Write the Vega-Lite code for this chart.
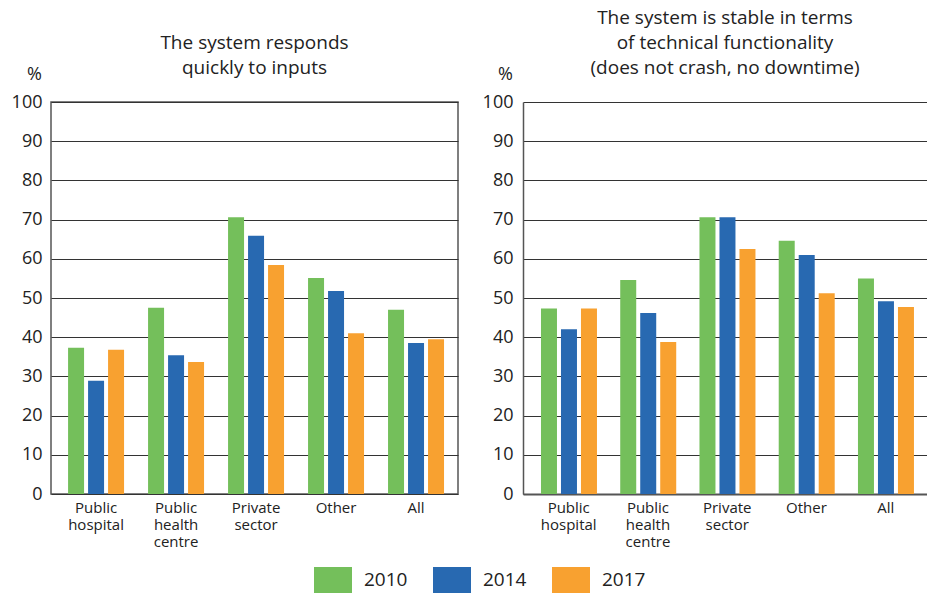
{
  "$schema": "https://vega.github.io/schema/vega-lite/v6.json",
  "background": "white",
  "padding": {"left": 10, "top": 9, "right": 0, "bottom": 0},
  "config": {
    "font": "Open Sans",
    "view": {"stroke": "#555", "strokeWidth": 1.5},
    "concat": {"spacing": 23},
    "axis": {"labelColor": "#222", "titleColor": "#222", "labelFont": "Open Sans", "titleFont": "Open Sans"}
  },
  "data": {
    "values": [
      {"panel": "A", "category": "Public hospital", "year": "2010", "value": 37.3},
      {"panel": "A", "category": "Public hospital", "year": "2014", "value": 28.9},
      {"panel": "A", "category": "Public hospital", "year": "2017", "value": 36.8},
      {"panel": "A", "category": "Public health centre", "year": "2010", "value": 47.5},
      {"panel": "A", "category": "Public health centre", "year": "2014", "value": 35.4},
      {"panel": "A", "category": "Public health centre", "year": "2017", "value": 33.7},
      {"panel": "A", "category": "Private sector", "year": "2010", "value": 70.6},
      {"panel": "A", "category": "Private sector", "year": "2014", "value": 65.9},
      {"panel": "A", "category": "Private sector", "year": "2017", "value": 58.4},
      {"panel": "A", "category": "Other", "year": "2010", "value": 55.1},
      {"panel": "A", "category": "Other", "year": "2014", "value": 51.8},
      {"panel": "A", "category": "Other", "year": "2017", "value": 41.0},
      {"panel": "A", "category": "All", "year": "2010", "value": 47.0},
      {"panel": "A", "category": "All", "year": "2014", "value": 38.5},
      {"panel": "A", "category": "All", "year": "2017", "value": 39.5},
      {"panel": "B", "category": "Public hospital", "year": "2010", "value": 47.3},
      {"panel": "B", "category": "Public hospital", "year": "2014", "value": 42.0},
      {"panel": "B", "category": "Public hospital", "year": "2017", "value": 47.3},
      {"panel": "B", "category": "Public health centre", "year": "2010", "value": 54.6},
      {"panel": "B", "category": "Public health centre", "year": "2014", "value": 46.2},
      {"panel": "B", "category": "Public health centre", "year": "2017", "value": 38.8},
      {"panel": "B", "category": "Private sector", "year": "2010", "value": 70.6},
      {"panel": "B", "category": "Private sector", "year": "2014", "value": 70.6},
      {"panel": "B", "category": "Private sector", "year": "2017", "value": 62.5},
      {"panel": "B", "category": "Other", "year": "2010", "value": 64.6},
      {"panel": "B", "category": "Other", "year": "2014", "value": 61.0},
      {"panel": "B", "category": "Other", "year": "2017", "value": 51.2},
      {"panel": "B", "category": "All", "year": "2010", "value": 55.0},
      {"panel": "B", "category": "All", "year": "2014", "value": 49.2},
      {"panel": "B", "category": "All", "year": "2017", "value": 47.7}
    ]
  },
  "hconcat": [
    {
      "width": 407,
      "height": 392,
      "title": {"text": ["The system responds", "quickly to inputs"], "frame": "group", "anchor": "middle", "baseline": "bottom", "offset": -32, "fontSize": 19, "fontWeight": "normal", "lineHeight": 25, "color": "#222", "font": "Open Sans"},
      "transform": [{"filter": "datum.panel == 'A'"}],
      "mark": {"type": "bar"},
      "encoding": {
        "x": {
          "field": "category", "type": "nominal",
          "sort": ["Public hospital", "Public health centre", "Private sector", "Other", "All"],
          "scale": {"paddingInner": 0.3, "paddingOuter": 0.194, "align": 0.55},
          "axis": {"title": null, "labelAngle": 0, "labelExpr": "split(datum.label, ' ')", "labelFontSize": 15, "labelLineHeight": 17, "ticks": false, "domain": false, "labelPadding": 6, "labelBaseline": "top"}
        },
        "xOffset": {"field": "year", "type": "nominal", "scale": {"paddingInner": 0.2, "paddingOuter": 0}},
        "y": {
          "field": "value", "type": "quantitative",
          "scale": {"domain": [0, 100]},
          "axis": {"title": "%", "titleAngle": 0, "titleX": -17, "titleY": -28, "titleAlign": "center", "titleBaseline": "middle", "titleFontSize": 18, "titleFontWeight": "normal", "values": [0, 10, 20, 30, 40, 50, 60, 70, 80, 90, 100], "ticks": false, "labelPadding": 9, "labelFontSize": 18, "grid": true, "gridColor": "#333", "gridWidth": 1, "gridOpacity": 1, "domain": false}
        },
        "color": {
          "field": "year", "type": "nominal",
          "scale": {"domain": ["2010", "2014", "2017"], "range": ["#74BF5B", "#2869B1", "#F8A130"]},
          "legend": {"orient": "none", "legendX": 263, "legendY": 459, "direction": "horizontal", "title": null, "symbolType": "M-1,-0.684L1,-0.684L1,0.684L-1,0.684Z", "symbolSize": 1444, "symbolStrokeWidth": 0, "symbolOpacity": 1, "labelFontSize": 19, "labelOffset": 12, "columnPadding": 25, "labelColor": "#222", "labelFont": "Open Sans"}
        }
      }
    },
    {
      "width": 404,
      "height": 392,
      "view": {"stroke": null},
      "title": {"text": ["The system is stable in terms", "of technical functionality", "(does not crash, no downtime)"], "frame": "group", "anchor": "middle", "baseline": "bottom", "offset": -32, "fontSize": 19, "fontWeight": "normal", "lineHeight": 25, "color": "#222", "font": "Open Sans"},
      "transform": [{"filter": "datum.panel == 'B'"}],
      "mark": {"type": "bar"},
      "encoding": {
        "x": {
          "field": "category", "type": "nominal",
          "sort": ["Public hospital", "Public health centre", "Private sector", "Other", "All"],
          "scale": {"paddingInner": 0.3, "paddingOuter": 0.199, "align": 0.57},
          "axis": {"title": null, "labelAngle": 0, "labelExpr": "split(datum.label, ' ')", "labelFontSize": 15, "labelLineHeight": 17, "ticks": false, "domain": true, "domainColor": "#555", "domainWidth": 2, "labelPadding": 6, "labelBaseline": "top"}
        },
        "xOffset": {"field": "year", "type": "nominal", "scale": {"paddingInner": 0.2, "paddingOuter": 0}},
        "y": {
          "field": "value", "type": "quantitative",
          "scale": {"domain": [0, 100]},
          "axis": {"title": "%", "titleAngle": 0, "titleX": -18, "titleY": -28, "titleAlign": "center", "titleBaseline": "middle", "titleFontSize": 18, "titleFontWeight": "normal", "values": [0, 10, 20, 30, 40, 50, 60, 70, 80, 90, 100], "ticks": false, "labelPadding": 10, "labelFontSize": 18, "grid": true, "gridColor": "#333", "gridWidth": 1, "gridOpacity": 1, "domain": true, "domainColor": "#555", "domainWidth": 1.5}
        },
        "color": {
          "field": "year", "type": "nominal",
          "scale": {"domain": ["2010", "2014", "2017"], "range": ["#74BF5B", "#2869B1", "#F8A130"]},
          "legend": null
        }
      }
    }
  ]
}
